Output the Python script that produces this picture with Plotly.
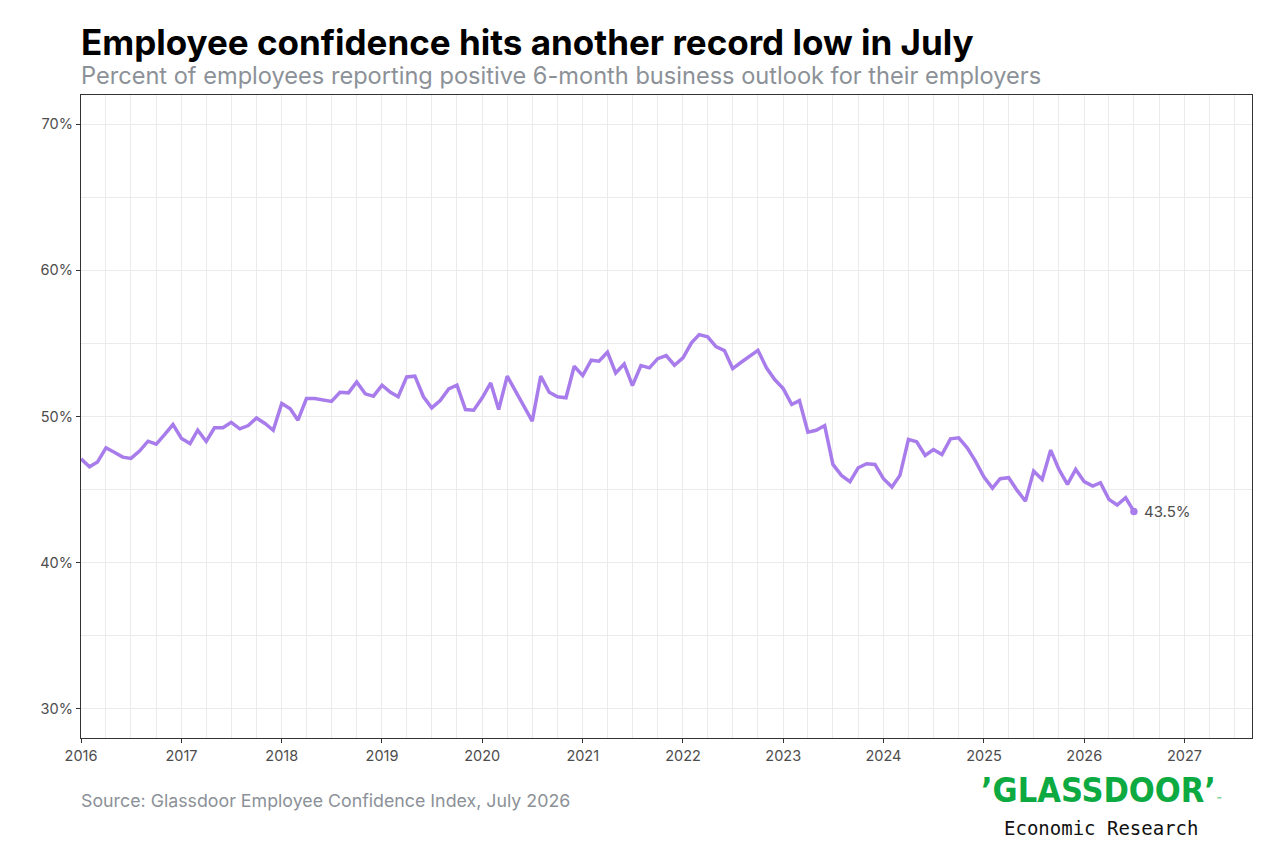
import plotly.graph_objects as go
import pandas as pd

# Monthly values, Jan 2016 - Jul 2026
values_2016 = [47.1, 46.56, 46.88, 47.86, 47.56, 47.22, 47.13, 47.63, 48.31, 48.11, 48.77, 49.45]
values_2017 = [48.5, 48.15, 49.06, 48.29, 49.23, 49.23, 49.6, 49.16, 49.38, 49.9, 49.52, 49.06]
values_2018 = [50.89, 50.53, 49.75, 51.23, 51.23, 51.11, 51.03, 51.66, 51.62, 52.37, 51.55, 51.39]
values_2019 = [52.14, 51.65, 51.35, 52.71, 52.76, 51.35, 50.59, 51.09, 51.89, 52.14, 50.48, 50.43]
values_2020 = [51.28, 52.3, 50.48, 52.76, 51.73, 50.66, 49.68, 52.76, 51.66, 51.35, 51.28, 53.44]
values_2021 = [52.8, 53.85, 53.78, 54.40, 52.98, 53.59, 52.12, 53.49, 53.33, 53.96, 54.17, 53.51]
values_2022 = [54.01, 55.04, 55.6, 55.45, 54.78, 54.51, 53.28, 53.71, 54.12, 54.53, 53.33, 52.53]
values_2023 = [51.91, 50.82, 51.09, 48.93, 49.06, 49.38, 46.72, 45.97, 45.54, 46.49, 46.77, 46.72]
values_2024 = [45.74, 45.17, 45.97, 48.43, 48.27, 47.33, 47.74, 47.40, 48.47, 48.54, 47.86, 46.95]
values_2025 = [45.85, 45.1, 45.74, 45.81, 44.96, 44.21, 46.26, 45.69, 47.7, 46.38, 45.35, 46.38]
values_2026 = [45.54, 45.24, 45.47, 44.33, 43.94, 44.44, 43.5]

values = (values_2016 + values_2017 + values_2018 + values_2019 + values_2020 + values_2021
          + values_2022 + values_2023 + values_2024 + values_2025 + values_2026)
dates = pd.date_range("2016-01-01", periods=len(values), freq="MS")

y_ticks = [30, 40, 50, 60, 70]
y_tick_labels = ["30%", "40%", "50%", "60%", "70%"]
x_tick_years = list(range(2016, 2028))

title = "Employee confidence hits another record low in July"
subtitle = "Percent of employees reporting positive 6-month business outlook for their employers"
source = "Source: Glassdoor Employee Confidence Index, July 2026"
end_label = "43.5%"

LINE = "#A87DEB"
GRID = "#EBEBEB"
BORDER = "#333333"
TICKTXT = "#4D4D4D"
GRAYTXT = "#8C9198"

# page body has an 8px margin; figure is sized to fit the window
OFF = 8
W, H = 1280 - OFF, 853 - OFF
L, R, T, B = 80.7 - OFF, 1251.7 - OFF, 95 - OFF, 737.7 - OFF

fig = go.Figure()
fig.add_trace(go.Scatter(
    x=dates, y=values, mode="lines",
    line=dict(color=LINE, width=3.5),
    hoverinfo="skip", showlegend=False,
))
fig.add_trace(go.Scatter(
    x=[dates[-1]], y=[values[-1]], mode="markers",
    marker=dict(color=LINE, size=7.5),
    hoverinfo="skip", showlegend=False,
))

fig.update_layout(
    width=W, height=H,
    margin=dict(l=L, r=W - R, t=T, b=H - B, pad=0),
    paper_bgcolor="white", plot_bgcolor="white",
    font=dict(family="Inter, Roboto, sans-serif", color=TICKTXT),
    xaxis=dict(
        type="date",
        range=["2016-01-01", "2027-09-04"],
        tickvals=[f"{y}-01-01" for y in x_tick_years],
        ticktext=[str(y) for y in x_tick_years],
        showgrid=True, gridcolor=GRID, gridwidth=1.3,
        minor=dict(dtick="M3", tick0="2016-01-01", showgrid=True, gridcolor=GRID, gridwidth=0.7),
        ticks="outside", ticklen=4, tickcolor=BORDER, tickwidth=1.3,
        showline=True, linecolor=BORDER, linewidth=1.3, mirror=True,
        tickfont=dict(size=14.5, color=TICKTXT),
        zeroline=False,
    ),
    yaxis=dict(
        range=[28, 72],
        tickvals=y_ticks, ticktext=y_tick_labels,
        showgrid=True, gridcolor=GRID, gridwidth=1.3,
        minor=dict(dtick=5, tick0=25, showgrid=True, gridcolor=GRID, gridwidth=0.7),
        ticks="outside", ticklen=4, tickcolor=BORDER, tickwidth=1.3,
        showline=True, linecolor=BORDER, linewidth=1.3, mirror=True,
        tickfont=dict(size=14.5, color=TICKTXT),
        zeroline=False,
    ),
)

def px(xref_px):
    return (xref_px - OFF - L) / (R - L)

def py(yref_px):
    return (B - (yref_px - OFF)) / (B - T)

anns = [
    dict(text=f"<b>{title}</b>", x=px(79), y=py(42), xanchor="left", yanchor="middle",
         font=dict(size=35, color="#000000", family="Inter, sans-serif")),
    dict(text=subtitle, x=px(79), y=py(76), xanchor="left", yanchor="middle",
         font=dict(size=23.6, color=GRAYTXT, family="Inter, sans-serif")),
    dict(text=source, x=px(79), y=py(800), xanchor="left", yanchor="middle",
         font=dict(size=17.8, color=GRAYTXT, family="Inter, sans-serif")),
    dict(text="<b>’GLASSDOOR’</b><span style='font-size:7px'>™</span>", x=px(1101), y=py(790),
         xanchor="center", yanchor="middle",
         font=dict(size=34, color="#0CAA41", family="DejaVu Sans Condensed, sans-serif")),
    dict(text="Economic Research", x=px(1101), y=py(828), xanchor="center", yanchor="middle",
         font=dict(size=19, color="#111111", family="DejaVu Sans Mono, Liberation Mono, monospace")),
]
for a in anns:
    a.update(xref="paper", yref="paper", showarrow=False)
    fig.add_annotation(**a)

fig.add_annotation(x=dates[-1], y=values[-1], text=end_label, xref="x", yref="y",
                   showarrow=False, xanchor="left", yanchor="middle", xshift=8,
                   font=dict(size=15, color=TICKTXT, family="Inter, sans-serif"))

fig.write_html("out.html")
